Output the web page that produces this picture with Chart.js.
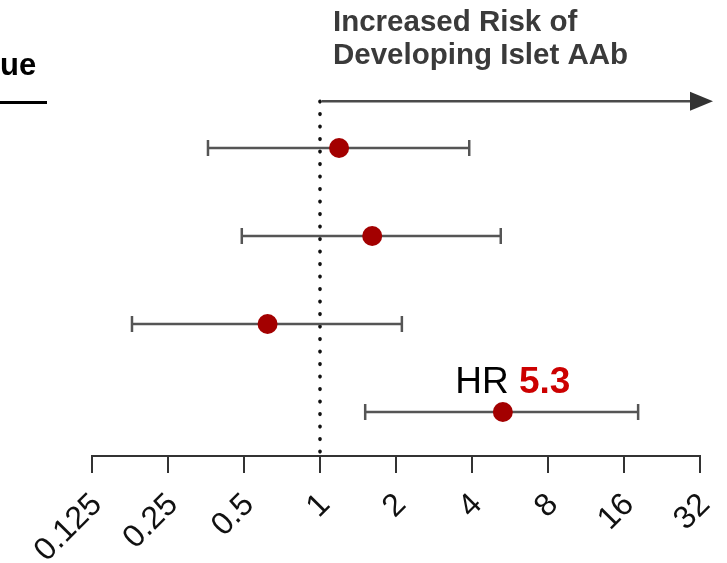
<!DOCTYPE html>
<html>
<head>
<meta charset="utf-8">
<script src="https://cdn.jsdelivr.net/npm/chart.js@4.4.1/dist/chart.umd.min.js"></script>
<style>
  html, body { margin: 0; padding: 0; background: #fff; }
</style>
</head>
<body>
<canvas id="forest" width="727" height="563"></canvas>
<script>
// rows top to bottom
const rows = [1, 2, 3, 4];
const hr = [1.19, 1.61, 0.62, 5.3];
const ciLow = [0.36, 0.49, 0.18, 1.51];
const ciHigh = [3.9, 5.2, 2.11, 18.2];

const tickValues = [0.125, 0.25, 0.5, 1, 2, 4, 8, 16, 32];
const tickLabels = ['0.125', '0.25', '0.5', '1', '2', '4', '8', '16', '32'];

const titleLines = ['Increased Risk of', 'Developing Islet AAb'];
const columnHeader = 'ue';
const hrText = ['HR ', '5.3'];
const refValue = 1;
const arrowRow = 0.47;

const FONT = "'Liberation Sans', Arial, sans-serif";

// one line dataset per confidence interval, caps drawn as rotated 'line' points
const ciSets = rows.map((r, i) => ({
    type: 'line',
    data: [{ x: ciLow[i], y: r }, { x: ciHigh[i], y: r }],
    borderColor: '#555',
    borderWidth: 2.5,
    pointStyle: 'line',
    rotation: 90,
    pointRadius: 8,
    pointBorderColor: '#555',
    pointBorderWidth: 2.5,
    order: 1
}));

const annotations = {
    id: 'annotations',
    afterDraw(chart) {
        const ctx = chart.ctx;
        const xs = chart.scales.x;
        const ys = chart.scales.y;
        const x1 = xs.getPixelForValue(refValue);
        ctx.save();

        // header text top right
        ctx.fillStyle = '#3a3a3a';
        ctx.font = 'bold 29.5px ' + FONT;
        ctx.textAlign = 'left';
        ctx.textBaseline = 'alphabetic';
        ctx.fillText(titleLines[0], x1 + 13, 31);
        ctx.fillText(titleLines[1], x1 + 13, 64);

        // arrow
        const ay = ys.getPixelForValue(arrowRow);
        const tip = chart.chartArea.right + 13;
        ctx.strokeStyle = '#4a4a4a';
        ctx.lineWidth = 2.5;
        ctx.beginPath();
        ctx.moveTo(x1 + 2, ay);
        ctx.lineTo(tip - 20, ay);
        ctx.stroke();
        ctx.fillStyle = '#333';
        ctx.beginPath();
        ctx.moveTo(tip, ay);
        ctx.lineTo(tip - 23, ay - 9.5);
        ctx.lineTo(tip - 23, ay + 9.5);
        ctx.closePath();
        ctx.fill();

        // clipped column header on the left
        ctx.fillStyle = '#000';
        ctx.font = 'bold 31px ' + FONT;
        ctx.fillText(columnHeader, 0, 75);
        ctx.fillRect(0, 101, 47, 3);

        // HR label over last row
        const px = xs.getPixelForValue(hr[3]);
        const py = ys.getPixelForValue(rows[3]);
        ctx.font = '37px ' + FONT;
        const w1 = ctx.measureText(hrText[0]).width;
        ctx.font = 'bold 37px ' + FONT;
        const w2 = ctx.measureText(hrText[1]).width;
        const left = px + 10 - (w1 + w2) / 2;
        ctx.font = '37px ' + FONT;
        ctx.fillStyle = '#000';
        ctx.fillText(hrText[0], left, py - 19);
        ctx.font = 'bold 37px ' + FONT;
        ctx.fillStyle = '#cc0000';
        ctx.fillText(hrText[1], left + w1, py - 19);

        ctx.restore();
    }
};

new Chart(document.getElementById('forest'), {
    type: 'scatter',
    data: {
        datasets: [
            {
                data: rows.map((r, i) => ({ x: hr[i], y: r })),
                backgroundColor: '#a30000',
                borderWidth: 0,
                pointRadius: 10,
                order: 0
            },
            ...ciSets,
            {
                type: 'line',
                data: [{ x: refValue, y: arrowRow }, { x: refValue, y: 4.5 }],
                borderColor: '#111',
                borderWidth: 3.6,
                borderDash: [0.5, 12],
                borderCapStyle: 'round',
                pointRadius: 0,
                order: 2
            }
        ]
    },
    options: {
        responsive: false,
        animation: false,
        layout: { padding: { top: 60, left: 92, right: 27, bottom: 0 } },
        plugins: { legend: { display: false }, tooltip: { enabled: false } },
        scales: {
            x: {
                type: 'logarithmic',
                min: 0.125,
                max: 32,
                afterBuildTicks: s => { s.ticks = tickValues.map(v => ({ value: v })); },
                afterFit: s => { s.height = 107; s.paddingLeft = 0; s.paddingRight = 0; },
                ticks: {
                    autoSkip: false,
                    minRotation: 45,
                    maxRotation: 45,
                    padding: 13,
                    labelOffset: 5,
                    color: '#111',
                    font: { family: FONT, size: 32 },
                    callback: (v, i) => tickLabels[i]
                },
                grid: { drawOnChartArea: false, tickLength: 17, color: '#333', lineWidth: 2 },
                border: { color: '#333', width: 2 }
            },
            y: {
                type: 'linear',
                reverse: true,
                min: 0,
                max: 4.5,
                display: false
            }
        }
    },
    plugins: [annotations]
});
</script>
</body>
</html>
